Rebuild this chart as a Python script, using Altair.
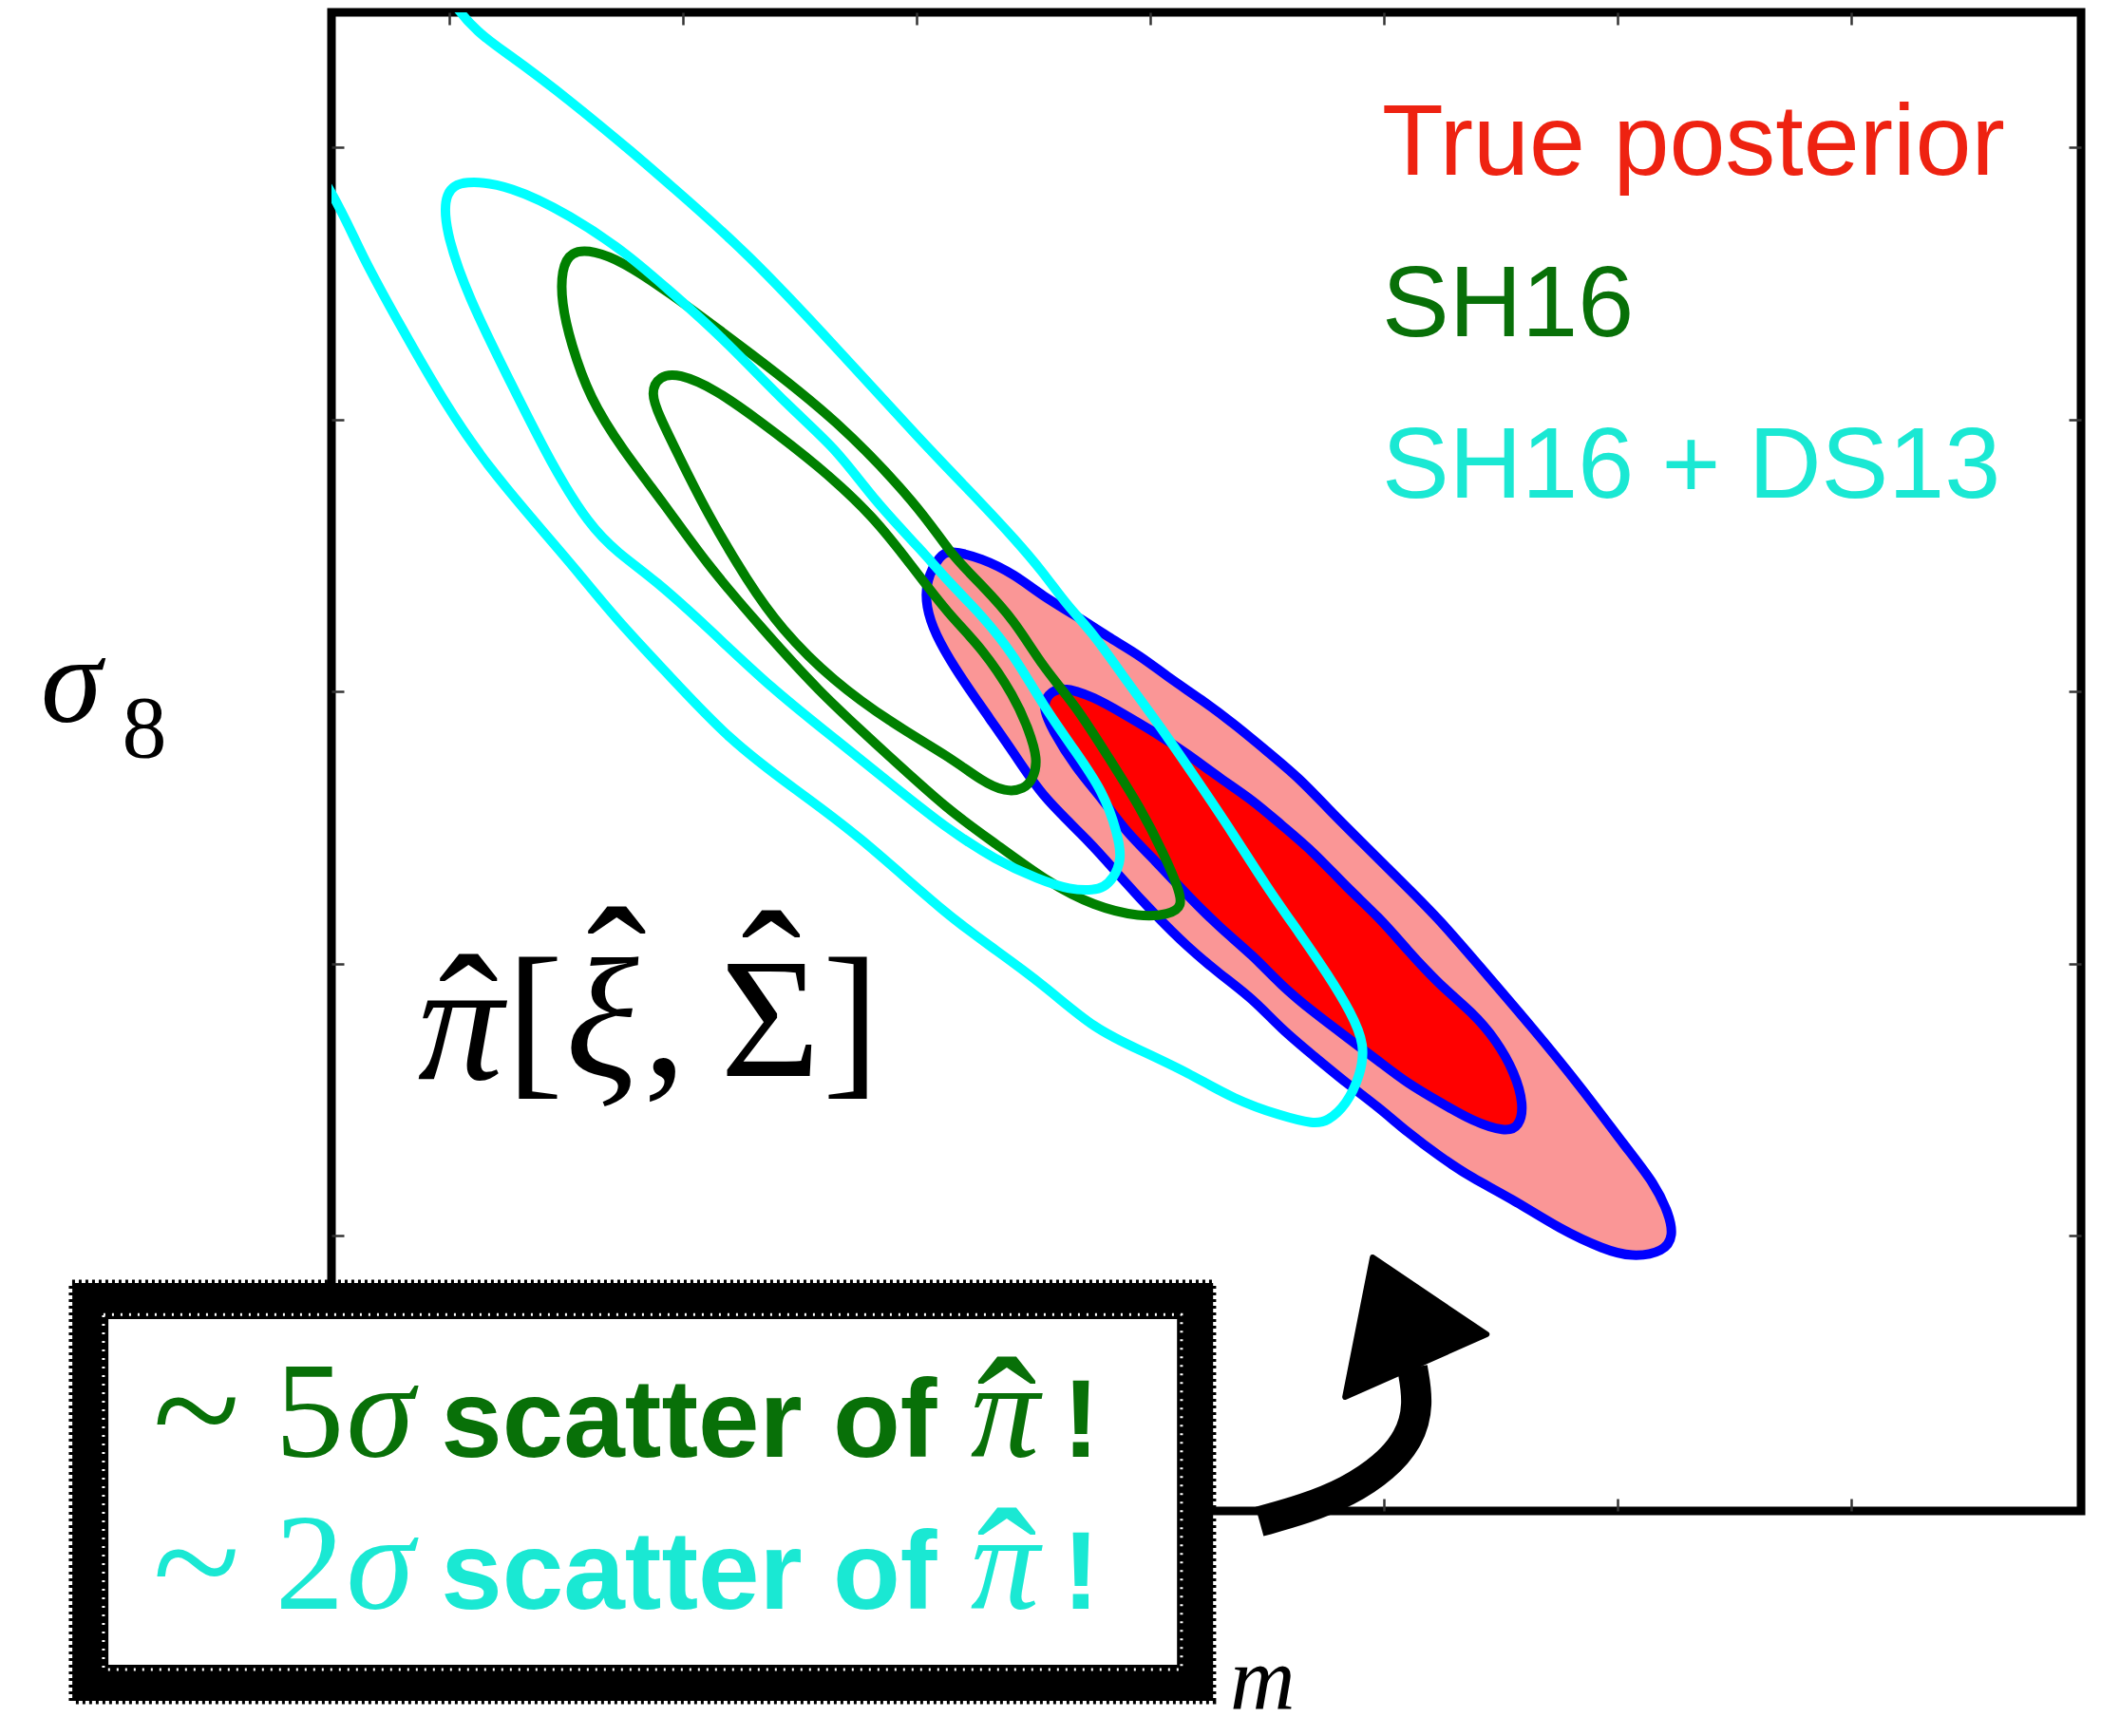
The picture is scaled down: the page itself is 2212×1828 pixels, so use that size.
import altair as alt
import pandas as pd

# ---------------- axes ----------------
X_DOMAIN = [0.1248, 0.4992]
Y_DOMAIN = [0.4988, 1.0496]
x_ticks = [0.15, 0.20, 0.25, 0.30, 0.35, 0.40, 0.45]
y_ticks = [0.6, 0.7, 0.8, 0.9, 1.0]

# ---------------- contours (Omega_m, sigma_8) ----------------
true_outer_om = [0.255, 0.257, 0.264, 0.271, 0.277, 0.284, 0.291, 0.298, 0.304, 0.311,
                 0.318, 0.325, 0.332, 0.338, 0.345, 0.355, 0.362, 0.371, 0.382, 0.392,
                 0.402, 0.408, 0.411, 0.412, 0.410, 0.403, 0.397, 0.388, 0.377, 0.369,
                 0.362, 0.355, 0.349, 0.342, 0.335, 0.328, 0.322, 0.315, 0.308, 0.301,
                 0.294, 0.287, 0.277, 0.271, 0.264, 0.258, 0.254, 0.252, 0.252]
true_outer_s8 = [0.850, 0.852, 0.849, 0.843, 0.835, 0.828, 0.820, 0.813, 0.805, 0.797,
                 0.788, 0.778, 0.768, 0.757, 0.745, 0.728, 0.716, 0.698, 0.676, 0.655,
                 0.632, 0.619, 0.608, 0.600, 0.594, 0.592, 0.595, 0.602, 0.614, 0.621,
                 0.629, 0.638, 0.647, 0.656, 0.666, 0.676, 0.687, 0.696, 0.706, 0.718,
                 0.731, 0.745, 0.761, 0.777, 0.794, 0.809, 0.821, 0.831, 0.841]

true_inner_om = [0.278, 0.281, 0.288, 0.294, 0.301, 0.308, 0.315, 0.322, 0.328, 0.335,
                 0.342, 0.349, 0.355, 0.362, 0.369, 0.374, 0.378, 0.380, 0.379, 0.376,
                 0.369, 0.362, 0.355, 0.349, 0.342, 0.335, 0.328, 0.322, 0.315, 0.308,
                 0.301, 0.295, 0.290, 0.284, 0.279, 0.277]
true_inner_s8 = [0.799, 0.802, 0.798, 0.792, 0.785, 0.777, 0.768, 0.760, 0.751, 0.741,
                 0.728, 0.717, 0.705, 0.692, 0.682, 0.672, 0.660, 0.648, 0.640, 0.638,
                 0.642, 0.649, 0.656, 0.664, 0.673, 0.682, 0.692, 0.703, 0.713, 0.725,
                 0.738, 0.748, 0.760, 0.772, 0.786, 0.794]

sh16_outer_om = [0.176, 0.181, 0.187, 0.196, 0.214, 0.233, 0.251, 0.257, 0.264, 0.271,
                 0.277, 0.284, 0.291, 0.298, 0.303, 0.306, 0.307, 0.304, 0.298, 0.288,
                 0.278, 0.267, 0.257, 0.243, 0.229, 0.216, 0.205, 0.196, 0.187, 0.180,
                 0.176, 0.174, 0.174]
sh16_outer_s8 = [0.962, 0.962, 0.958, 0.948, 0.925, 0.900, 0.867, 0.851, 0.839, 0.826,
                 0.809, 0.795, 0.776, 0.757, 0.740, 0.728, 0.721, 0.718, 0.717, 0.721,
                 0.730, 0.744, 0.756, 0.778, 0.800, 0.825, 0.847, 0.869, 0.889, 0.908,
                 0.928, 0.943, 0.955]

sh16_inner_om = [0.195, 0.199, 0.207, 0.216, 0.229, 0.241, 0.249, 0.257, 0.264, 0.271,
                 0.274, 0.276, 0.275, 0.273, 0.269, 0.264, 0.257, 0.245, 0.232, 0.221,
                 0.214, 0.205, 0.199, 0.195, 0.193]
sh16_inner_s8 = [0.916, 0.917, 0.911, 0.900, 0.883, 0.864, 0.846, 0.828, 0.816, 0.798,
                 0.786, 0.775, 0.768, 0.764, 0.763, 0.767, 0.776, 0.788, 0.804, 0.823,
                 0.840, 0.866, 0.887, 0.901, 0.910]

ds13_inner_om = [0.149, 0.153, 0.163, 0.176, 0.188, 0.196, 0.208, 0.223, 0.233, 0.241,
                 0.251, 0.257, 0.264, 0.271, 0.277, 0.284, 0.290, 0.293, 0.294, 0.292,
                 0.290, 0.288, 0.283, 0.276, 0.267, 0.257, 0.246, 0.233, 0.219, 0.205,
                 0.194, 0.186, 0.180, 0.172, 0.163, 0.154, 0.149]
ds13_inner_s8 = [0.984, 0.988, 0.986, 0.975, 0.961, 0.949, 0.931, 0.904, 0.889, 0.870,
                 0.852, 0.840, 0.828, 0.813, 0.795, 0.778, 0.763, 0.748, 0.738, 0.731,
                 0.728, 0.727, 0.727, 0.731, 0.738, 0.749, 0.764, 0.782, 0.801, 0.824,
                 0.841, 0.851, 0.861, 0.883, 0.914, 0.945, 0.970]

# the outer SH16+DS13 contour runs off the top and left edges of the panel
ds13_outer_om = [0.140, 0.150, 0.163, 0.176, 0.190, 0.196, 0.214, 0.233, 0.251, 0.264,
                 0.271, 0.277, 0.282, 0.288, 0.294, 0.301, 0.311, 0.318, 0.325, 0.332,
                 0.338, 0.343, 0.346, 0.345, 0.342, 0.338, 0.335, 0.328, 0.318, 0.308,
                 0.298, 0.288, 0.278, 0.267, 0.257, 0.237, 0.224, 0.210, 0.197, 0.186,
                 0.177, 0.172, 0.158, 0.149, 0.140, 0.131, 0.126, 0.115, 0.108]
ds13_outer_s8 = [1.095, 1.049, 1.034, 1.017, 0.997, 0.988, 0.961, 0.926, 0.892, 0.869,
                 0.856, 0.844, 0.832, 0.821, 0.806, 0.790, 0.765, 0.747, 0.728, 0.711,
                 0.696, 0.682, 0.670, 0.659, 0.648, 0.642, 0.641, 0.644, 0.650, 0.660,
                 0.668, 0.676, 0.691, 0.705, 0.717, 0.748, 0.764, 0.782, 0.806, 0.826,
                 0.845, 0.855, 0.883, 0.906, 0.933, 0.961, 0.981, 1.010, 1.090]

# ---------------- annotations (anchored in data units) ----------------
legend_text = ["True posterior", "SH16", "SH16 + DS13"]
legend_color = ["#EE2211", "#087008", "#1AE8D3"]
legend_om = [0.3496, 0.3496, 0.3496]
legend_s8 = [0.9899, 0.9305, 0.8712]

formula_it_text = ["π", "ξ"]
formula_it_om = [0.1524, 0.1827]
formula_it_s8 = [0.6576, 0.6586]
formula_up_text = ["[", ",", "Σ", "]"]
formula_up_om = [0.1683, 0.1961, 0.2187, 0.2360]
formula_up_s8 = [0.6586, 0.6586, 0.6586, 0.6586]
formula_hat_om = [0.1541, 0.1858, 0.2189]
formula_hat_s8 = [0.6574, 0.6747, 0.6733]

box_colors = ["#087008", "#1AE8D3"]
box_digits = ["5", "2"]
box_line_s8 = [0.5187, 0.4628]
box_tilde_s8 = [0.5159, 0.4600]
box_hat_s8 = [0.5094, 0.4536]

# call-out frame: main border, inner speckle line, outer ragged edge
box_om = [0.0732, 0.0760, 0.0693]
box_om2 = [0.3096, 0.3067, 0.3134]
box_s8 = [0.5759, 0.5710, 0.5826]
box_s82 = [0.4356, 0.4405, 0.4290]

arrow_om = [0.3234, 0.3331, 0.3423, 0.3502, 0.3555, 0.3575, 0.3561]
arrow_s8 = [0.4949, 0.4995, 0.5058, 0.5148, 0.5253, 0.5379, 0.5515]
head_om = [0.3476, 0.3720, 0.3417]
head_s8 = [0.5920, 0.5637, 0.5407]

# ---------------- helpers ----------------
xs = alt.Scale(domain=X_DOMAIN, nice=False, zero=False)
ys = alt.Scale(domain=Y_DOMAIN, nice=False, zero=False)

SERIF = "Liberation Serif"
SANS = "Liberation Sans"


def path_df(om, s8):
    return pd.DataFrame({"om": om, "s8": s8, "i": list(range(len(om)))})


def path(om, s8, **mark):
    return alt.Chart(path_df(om, s8)).mark_line(**mark).encode(
        x=alt.X("om:Q", scale=xs, axis=None),
        y=alt.Y("s8:Q", scale=ys, axis=None),
        order=alt.Order("i:Q"),
    )


def texts(om, s8, labels, colors, **mark):
    df = pd.DataFrame({"om": om, "s8": s8, "t": labels, "col": colors})
    return alt.Chart(df).mark_text(baseline="alphabetic", **mark).encode(
        x=alt.X("om:Q", scale=xs, axis=None),
        y=alt.Y("s8:Q", scale=ys, axis=None),
        text="t:N",
        color=alt.Color("col:N", scale=None),
    )


def box(k, **mark):
    df = pd.DataFrame({"om": [box_om[k]], "om2": [box_om2[k]], "s8": [box_s8[k]], "s82": [box_s82[k]]})
    return alt.Chart(df).mark_rect(**mark).encode(
        x=alt.X("om:Q", scale=xs, axis=None), x2="om2:Q",
        y=alt.Y("s8:Q", scale=ys, axis=None), y2="s82:Q")


tick_style = dict(tickSize=13, tickWidth=2.5, tickColor="#333333", labels=False,
                  domain=False, grid=False, title="", offset=-13)

axes_bl = alt.Chart(pd.DataFrame({"om": x_ticks[:5], "s8": y_ticks})).mark_point(opacity=0).encode(
    x=alt.X("om:Q", scale=xs, axis=alt.Axis(orient="bottom", values=x_ticks, **tick_style)),
    y=alt.Y("s8:Q", scale=ys, axis=alt.Axis(orient="left", values=y_ticks, **tick_style)),
)
axes_tr = alt.Chart(pd.DataFrame({"om": x_ticks[:5], "s8": y_ticks})).mark_point(opacity=0).encode(
    x=alt.X("om:Q", scale=xs, axis=alt.Axis(orient="top", values=x_ticks, **tick_style)),
    y=alt.Y("s8:Q", scale=ys, axis=alt.Axis(orient="right", values=y_ticks, **tick_style)),
)

closed = dict(interpolate="basis-closed", clip=True)
LW = 10

layers = [
    axes_bl,
    axes_tr,
    path(true_outer_om, true_outer_s8, fill="#FA9696", stroke="#0000FF", strokeWidth=LW, **closed),
    path(true_inner_om, true_inner_s8, fill="#FF0000", stroke="#0000FF", strokeWidth=LW, **closed),
    path(sh16_outer_om, sh16_outer_s8, stroke="#008000", strokeWidth=LW, **closed),
    path(sh16_inner_om, sh16_inner_s8, stroke="#008000", strokeWidth=LW, **closed),
    path(ds13_outer_om, ds13_outer_s8, stroke="#00FFFF", strokeWidth=LW, **closed),
    path(ds13_inner_om, ds13_inner_s8, stroke="#00FFFF", strokeWidth=LW, **closed),
    # legend labels
    texts(legend_om, legend_s8, legend_text, legend_color, font=SANS, fontSize=106, align="left"),
    # estimator formula
    texts(formula_it_om, formula_it_s8, formula_it_text, ["black"] * 2,
          font=SERIF, fontStyle="italic", fontSize=180, align="center"),
    texts(formula_up_om, formula_up_s8, formula_up_text, ["black"] * 4,
          font=SERIF, fontSize=180, align="center"),
    texts(formula_hat_om, formula_hat_s8, ["ˆ"] * 3, ["black"] * 3,
          font=SERIF, fontSize=190, align="center"),
    # axis titles
    texts([0.0626], [0.7888], ["σ"], ["black"], font=SERIF, fontStyle="italic", fontSize=130, align="left"),
    texts([0.0800], [0.7759], ["8"], ["black"], font=SERIF, fontSize=94, align="left"),
    texts([0.3171], [0.4258], ["m"], ["black"], font=SERIF, fontStyle="italic", fontSize=95, align="left"),
    # call-out box (hand-drawn look)
    box(0, fill="white", stroke="black", strokeWidth=38),
    box(2, fillOpacity=0, stroke="black", strokeWidth=7, strokeDash=[3, 4]),
    box(1, fillOpacity=0, stroke="white", strokeWidth=3, strokeDash=[2, 7]),
    texts([0.0959] * 2, box_tilde_s8, ["~"] * 2, box_colors, font=SERIF, fontSize=170, align="center"),
    texts([0.1201] * 2, box_line_s8, box_digits, box_colors, font=SERIF, fontSize=145, align="center"),
    texts([0.1352, 0.1352, 0.2689, 0.2689], box_line_s8 * 2, ["σ", "σ", "π", "π"], box_colors * 2,
          font=SERIF, fontStyle="italic", fontSize=145, align="center"),
    texts([0.2013, 0.2013, 0.2852, 0.2852], box_line_s8 * 2, ["scatter of", "scatter of", "!", "!"],
          box_colors * 2, font=SANS, fontWeight="bold", fontSize=116, align="center"),
    texts([0.2693] * 2, box_hat_s8, ["ˆ"] * 2, box_colors, font=SERIF, fontSize=190, align="center"),
    # hand-drawn arrow
    path(arrow_om, arrow_s8, stroke="black", strokeWidth=32, interpolate="basis", strokeCap="butt"),
    path(head_om, head_s8, fill="black", stroke="black", strokeWidth=6, interpolate="linear-closed",
         strokeJoin="round"),
]

chart = (
    alt.layer(*layers)
    .resolve_axis(x="independent", y="independent")
    .properties(
        width=1842,
        height=1578,
        padding={"left": 341, "top": 5, "right": 13, "bottom": 229},
        autosize=alt.AutoSizeParams(type="none"),
        background="white",
    )
    .configure_view(stroke="black", strokeWidth=9)
)

chart.save("out.html", embed_options={"renderer": "svg", "actions": False})
